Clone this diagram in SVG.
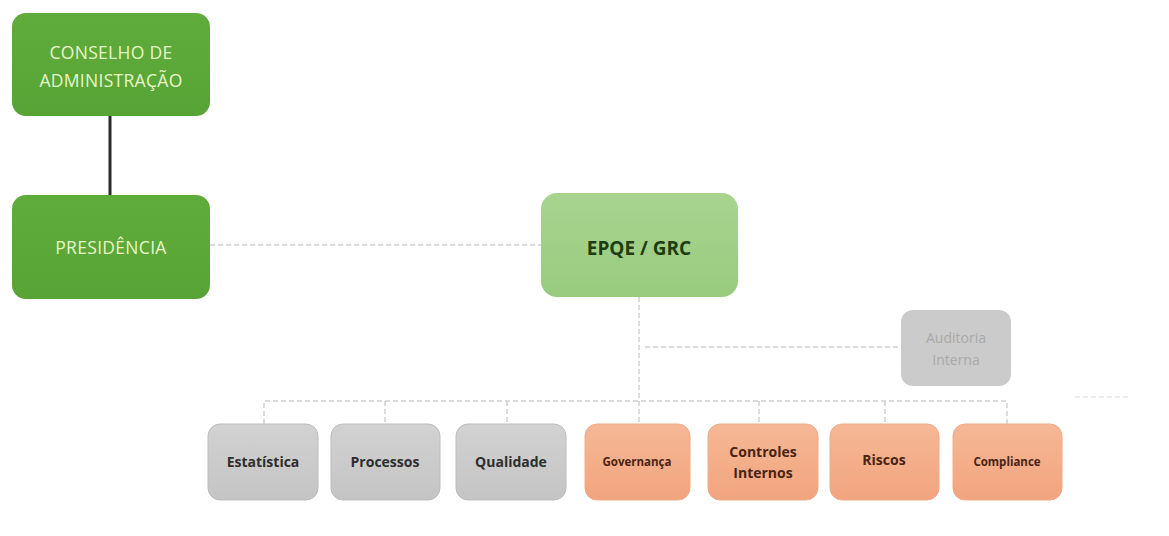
<svg xmlns="http://www.w3.org/2000/svg" width="1169" height="536" viewBox="0 0 1169 536">
<defs>
<linearGradient id="gDark" x1="0" y1="0" x2="0" y2="1"><stop offset="0" stop-color="#5fac3c"/><stop offset="1" stop-color="#58a335"/></linearGradient>
<linearGradient id="gLight" x1="0" y1="0" x2="0" y2="1"><stop offset="0" stop-color="#a8d490"/><stop offset="1" stop-color="#98cb7e"/></linearGradient>
<linearGradient id="gGray" x1="0" y1="0" x2="0" y2="1"><stop offset="0" stop-color="#d2d2d2"/><stop offset="1" stop-color="#c4c4c4"/></linearGradient>
<linearGradient id="gOrange" x1="0" y1="0" x2="0" y2="1"><stop offset="0" stop-color="#f5b896"/><stop offset="1" stop-color="#f2a47e"/></linearGradient>
</defs>
<style>
.dk{fill:url(#gDark);}
.lt{fill:url(#gLight);}
.gr{fill:url(#gGray);stroke:#bdbdbd;stroke-width:1;}
.or{fill:url(#gOrange);stroke:#f0ab88;stroke-width:1;}
.au{fill:#cbcbcb;}
.t1{font-family:"Open Sans","Liberation Sans",sans-serif;font-size:17.5px;fill:#e6f7c8;text-anchor:middle;letter-spacing:0.3px;}
.t2{font-family:"Open Sans","Liberation Sans",sans-serif;font-size:19px;font-weight:bold;fill:#1e3d10;text-anchor:middle;}
.tg{font-family:"Open Sans","Liberation Sans",sans-serif;font-size:14px;font-weight:bold;fill:#2e2e2e;text-anchor:middle;}
.to{font-family:"Open Sans","Liberation Sans",sans-serif;font-size:14px;font-weight:bold;fill:#4a2314;text-anchor:middle;}
.ts{font-family:"Open Sans","Liberation Sans",sans-serif;font-size:11.5px;font-weight:bold;fill:#4a2314;text-anchor:middle;}
.ta{font-family:"Open Sans","Liberation Sans",sans-serif;font-size:14px;fill:#a9a9a9;text-anchor:middle;}
.d{fill:none;stroke:#cfcfcf;stroke-width:1.5;stroke-dasharray:5 3;}
</style>
<g id="connectors">
<line x1="110" y1="116" x2="110" y2="195" stroke="#2b2b2b" stroke-width="3"/>
<line class="d" x1="210" y1="245" x2="541" y2="245"/>
<line class="d" x1="639" y1="297" x2="639" y2="424"/>
<line class="d" x1="645" y1="347" x2="900" y2="347"/>
<polyline class="d" points="264,424 264,401 1007,401 1007,424"/>
<line class="d" x1="385" y1="401" x2="385" y2="424"/>
<line class="d" x1="507" y1="401" x2="507" y2="424"/>
<line class="d" x1="759" y1="401" x2="759" y2="424"/>
<line class="d" x1="885" y1="401" x2="885" y2="424"/>
<line x1="1075" y1="397" x2="1130" y2="397" stroke="#e6e6e6" stroke-width="1.5" stroke-dasharray="5 3"/>
</g>
<g id="conselho"><rect class="dk" x="12" y="13" width="198" height="103" rx="14"/><text class="t1" x="111" y="59">CONSELHO DE</text><text class="t1" x="111" y="87">ADMINISTRAÇÃO</text></g>
<g id="presidencia"><rect class="dk" x="12" y="195" width="198" height="104" rx="14"/><text class="t1" x="111" y="254">PRESIDÊNCIA</text></g>
<g id="epqe"><rect class="lt" x="541" y="193" width="197" height="104" rx="16"/><text class="t2" x="639" y="255">EPQE / GRC</text></g>
<g id="auditoria"><rect class="au" x="901" y="310" width="110" height="76" rx="12"/><text class="ta" x="956" y="343">Auditoria</text><text class="ta" x="956" y="365">Interna</text></g>
<g id="estatistica"><rect class="gr" x="208" y="424" width="110" height="76" rx="12"/><text class="tg" x="263" y="467">Estatística</text></g>
<g id="processos"><rect class="gr" x="331" y="424" width="109" height="76" rx="12"/><text class="tg" x="385" y="467">Processos</text></g>
<g id="qualidade"><rect class="gr" x="456" y="424" width="110" height="76" rx="12"/><text class="tg" x="511" y="467">Qualidade</text></g>
<g id="governanca"><rect class="or" x="585" y="424" width="105" height="76" rx="12"/><text class="ts" x="637" y="466">Governança</text></g>
<g id="controles"><rect class="or" x="708" y="424" width="110" height="76" rx="12"/><text class="to" x="763" y="457">Controles</text><text class="to" x="763" y="478">Internos</text></g>
<g id="riscos"><rect class="or" x="830" y="424" width="109" height="76" rx="12"/><text class="to" x="884" y="465">Riscos</text></g>
<g id="compliance"><rect class="or" x="953" y="424" width="109" height="76" rx="12"/><text class="ts" x="1007" y="466">Compliance</text></g>
</svg>
